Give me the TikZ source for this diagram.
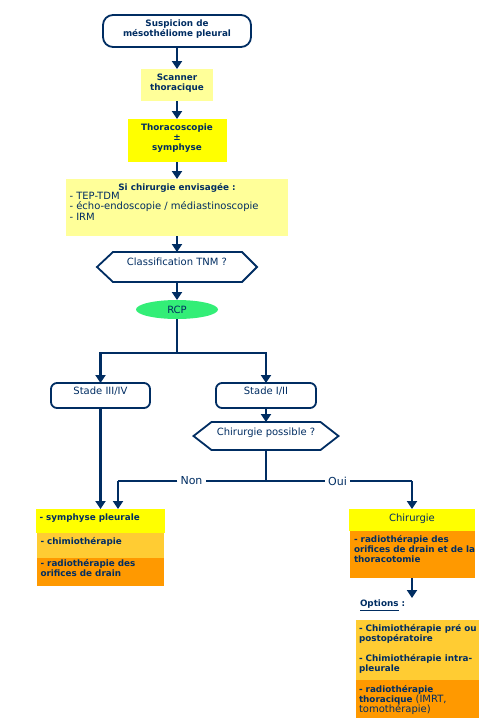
\documentclass[tikz,border=0pt]{standalone}
\usepackage{fontspec}
\setmainfont{DejaVu Sans}
\usetikzlibrary{arrows.meta,shapes.geometric}
\definecolor{navy}{RGB}{0,45,98}
\definecolor{lyel}{RGB}{255,255,153}
\definecolor{yel}{RGB}{255,255,0}
\definecolor{gold}{RGB}{255,204,51}
\definecolor{orng}{RGB}{255,153,0}
\definecolor{grn}{RGB}{51,238,119}
\begin{document}
\begin{tikzpicture}[x=1pt,y=-1pt,
  bt/.style={font=\fontsize{8.8}{10.2}\selectfont\bfseries},
  rt/.style={font=\fontsize{10}{10.5}\selectfont},
  txt/.style={text=navy,inner sep=0pt,outer sep=0pt},
  fbox/.style={inner sep=0pt,outer sep=0pt},
  rbox/.style={fbox,draw=navy,line width=1.8pt,fill=white},
  hexs/.style={draw=navy,line width=1.8pt,fill=white},
  conn/.style={draw=navy,line width=2.2pt},
  arr/.style={conn,-{Triangle[width=10pt,length=8pt]}},
]
\useasboundingbox (0,0) rectangle (500,720);

% top chain
\node[rbox,rounded corners=10pt,minimum width=148pt,minimum height=32pt] (susp) at (177,31) {};
\node[txt,bt,align=center] (suspt) at (177,29) {Suspicion de\\mésothéliome pleural};

\node[fbox,fill=lyel,minimum width=72pt,minimum height=32pt] (scan) at (177,85) {};
\node[txt,bt,align=center] (scant) at (177,83.5) {Scanner\\thoracique};

\node[fbox,fill=yel,minimum width=99pt,minimum height=43pt] (thor) at (177,140.5) {};
\node[txt,bt,align=center] (thort) at (177,138) {Thoracoscopie\\±\\symphyse};

\node[fbox,fill=lyel,minimum width=222pt,minimum height=57pt] (sich) at (177,207.5) {};
\node[txt,bt] (sicht) at (177,187.7) {Si chirurgie envisagée :};
\node[txt,rt,align=left,anchor=north west] (sichl) at (69.5,192) {- TEP-TDM\\- écho-endoscopie / médiastinoscopie\\- IRM};

\node[fbox,minimum width=160pt,minimum height=30pt] (tnm) at (177,267) {};
\draw[hexs] (tnm.west) -- ([xshift=16pt]tnm.north west) -- ([xshift=-15pt]tnm.north east) -- (tnm.east)
  -- ([xshift=-15pt]tnm.south east) -- ([xshift=16pt]tnm.south west) -- cycle;
\node[txt,rt] (tnmt) at (177,261.5) {Classification TNM ?};

\node[ellipse,fill=grn,minimum width=82pt,minimum height=19pt,txt,rt] (rcp) at (177,309.5) {RCP};

\draw[arr] (susp.south) -- (scan.north);
\draw[arr] (scan.south) -- (thor.north);
\draw[arr] (thor.south) -- (sich.north);
\draw[arr] (sich.south) -- (tnm.north);
\draw[arr] (tnm.south) -- (rcp.north);

% stages
\node[rbox,rounded corners=6pt,minimum width=99pt,minimum height=25pt] (s34) at (100.5,395.5) {};
\node[txt,rt] (s34t) at (100.5,391) {Stade III/IV};
\node[rbox,rounded corners=6pt,minimum width=100pt,minimum height=25pt] (s12) at (266,395.5) {};
\node[txt,rt] (s12t) at (266,391) {Stade I/II};

\coordinate (j1) at (177,353);
\draw[conn] (rcp.south) -- (j1);
\draw[arr] (j1) -| (s34.north);
\draw[arr] (j1) -| (s12.north);

\node[fbox,minimum width=145pt,minimum height=28pt] (cp) at (266,436) {};
\draw[hexs] (cp.west) -- ([xshift=18pt]cp.north west) -- ([xshift=-18pt]cp.north east) -- (cp.east)
  -- ([xshift=-18pt]cp.south east) -- ([xshift=18pt]cp.south west) -- cycle;
\node[txt,rt] (cpt) at (266,432.5) {Chirurgie possible ?};
\draw[arr] (s12.south) -- (cp.north);

% Non / Oui
\coordinate (j2) at (266,481);
\coordinate (jl) at (118,481);
\coordinate (jr) at (412,481);
\node[text=navy,inner sep=3pt,font=\fontsize{11}{12}\selectfont] (non) at (191.5,481) {Non};
\node[text=navy,inner sep=3pt,font=\fontsize{11}{12}\selectfont] (oui) at (337.5,481) {Oui};
\draw[conn] (cp.south) -- (j2);
\draw[conn] (j2) -- (non.east);
\draw[conn] (j2) -- (oui.west);

% left column
\node[fbox,fill=yel,minimum width=129pt,minimum height=24pt] (sym) at (100.5,521) {};
\node[fbox,fill=gold,minimum width=127pt,minimum height=25pt] (chim) at (100.5,545.5) {};
\node[fbox,fill=orng,minimum width=127pt,minimum height=28pt] (rad) at (100.5,572) {};
\node[txt,bt,anchor=west] (symt) at (39.5,518) {- symphyse pleurale};
\node[txt,bt,anchor=west] (chimt) at (40.5,542) {- chimiothérapie};
\node[txt,bt,align=left,anchor=north west] (radt) at (40.5,559.5) {- radiothérapie des\\orifices de drain};

\draw[conn] (non.west) -- (jl);
\draw[arr] (jl) -- (jl |- sym.north);
\draw[arr] (s34.south) -- (s34.south |- sym.north);

% right column
\node[fbox,fill=yel,minimum width=126pt,minimum height=22pt] (chir) at (412,520) {};
\node[txt,rt] (chirt) at (412,518.3) {Chirurgie};
\node[fbox,fill=orng,minimum width=125pt,minimum height=47pt] (chiro) at (412,554.5) {};
\node[txt,bt,align=left,anchor=north west] (chirot) at (354,535.5) {- radiothérapie des\\orifices de drain et de la\\thoracotomie};

\draw[conn] (oui.east) -- (jr);
\draw[arr] (jr) -- (chir.north);

\coordinate (optarr) at (412,598);
\draw[arr] (chiro.south) -- (optarr);
\node[txt,bt,anchor=west] (opt) at (360,605.5) {\underline{Options} :};

\node[fbox,fill=gold,minimum width=123pt,minimum height=60pt] (og) at (417.5,650) {};
\node[txt,bt,align=left,anchor=north west] (og1) at (359,624.5) {- Chimiothérapie pré ou\\postopératoire};
\node[txt,bt,align=left,anchor=north west] (og2) at (359,654.5) {- Chimiothérapie intra-\\pleurale};
\node[fbox,fill=orng,minimum width=123pt,minimum height=38pt] (oo) at (417.5,699) {};
\node[txt,bt,align=left,anchor=north west] (oot) at (359,685.5) {- radiothérapie\\thoracique {\mdseries\fontsize{10}{10.2}\selectfont (IMRT,}\\{\mdseries\fontsize{10}{10.2}\selectfont tomothérapie)}};
\end{tikzpicture}
\end{document}
